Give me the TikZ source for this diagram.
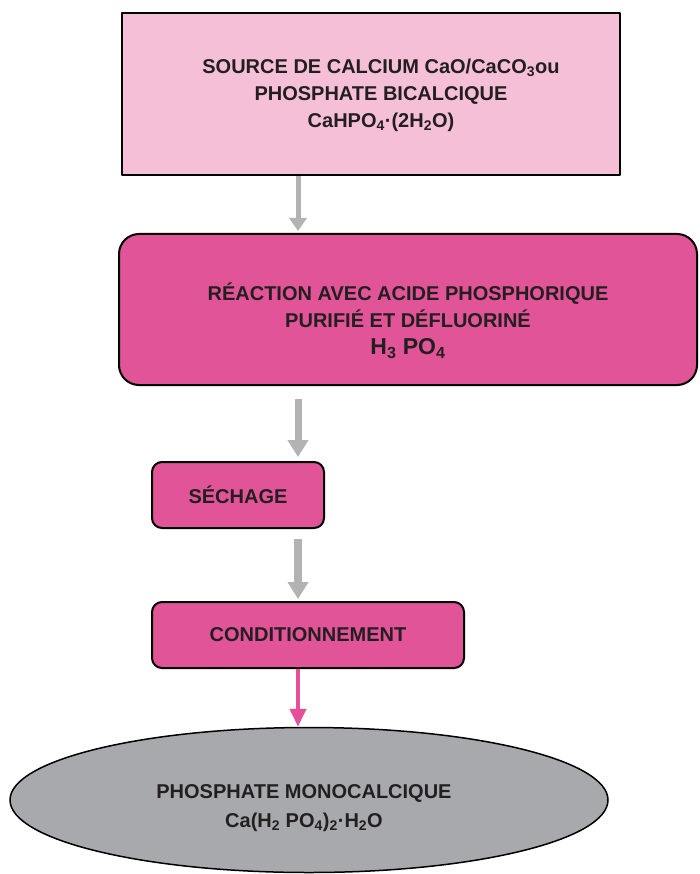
\documentclass[tikz,border=0pt]{standalone}
\usepackage{fontspec}
\setmainfont{Liberation Sans}
\usetikzlibrary{arrows}
\usetikzlibrary{arrows.meta}
\usetikzlibrary{shapes.geometric}
\definecolor{rosepale}{rgb}{0.9647058823529412,0.7490196078431373,0.8470588235294118}
\definecolor{rosevif}{rgb}{0.8862745098039215,0.32941176470588235,0.596078431372549}
\definecolor{grisell}{rgb}{0.6549019607843137,0.6627450980392157,0.6745098039215687}
\definecolor{grisfl}{rgb}{0.7019607843137254,0.7019607843137254,0.7019607843137254}
\definecolor{rosefl}{rgb}{0.9019607843137255,0.3137254901960784,0.6039215686274509}
\definecolor{texte}{rgb}{0.13725490196078433,0.12156862745098039,0.12549019607843137}

\begin{document}
\begin{tikzpicture}[line cap=round,line join=round,x=1pt,y=-1pt,
txt/.style={text=texte,align=center,inner sep=0pt,font=\fontsize{20}{27}\selectfont\bfseries},
sqbox/.style={draw=black,line width=2pt,fill=rosepale},
rdbox/.style={txt,draw=black,line width=2pt,fill=rosevif,rounded corners=10pt},
grarrow/.style={color=grisfl,line cap=butt}]
\useasboundingbox (0,0) rectangle (699,874);
\coordinate (axis) at (298,0);
\node[sqbox,minimum width=498pt,minimum height=162pt] (source) at (371,94) {};
\node[txt] (sourcetxt) at (381,95) {SOURCE DE CALCIUM CaO/CaCO\textsubscript{3}ou\\PHOSPHATE BICALCIQUE\\CaHPO\textsubscript{4}·(2H\textsubscript{2}O)};
\node[rdbox,rounded corners=20pt,minimum width=578pt,minimum height=151pt] (reaction) at (408,309.5) {};
\node[txt] (reactiontxt) at (408,321) {RÉACTION AVEC ACIDE PHOSPHORIQUE\\PURIFIÉ ET DÉFLUORINÉ\\{\fontsize{23}{27}\selectfont H\textsubscript{3} PO\textsubscript{4}}};
\node[rdbox,minimum width=172pt,minimum height=66pt] (sechage) at (238,495) {SÉCHAGE};
\node[rdbox,minimum width=312pt,minimum height=66pt] (cond) at (308,635) {CONDITIONNEMENT};
\node[ellipse,draw=black,line width=1.5pt,fill=grisell,minimum width=598pt,minimum height=145pt] (mono) at (309,800) {};
\node[txt,font=\fontsize{20}{29}\selectfont\bfseries] (monotxt) at (304,808) {PHOSPHATE MONOCALCIQUE\\Ca(H\textsubscript{2} PO\textsubscript{4})\textsubscript{2}·H\textsubscript{2}O};
% fleches
\draw [grarrow,line width=5pt,-{Triangle[length=13pt,width=17pt]},shorten >=2pt] (source.south -| axis) -- (reaction.north -| axis);
\draw [grarrow,line width=7pt,-{Triangle[length=17pt,width=20pt]},shorten <=13pt,shorten >=4pt] (reaction.south -| axis) -- (sechage.north -| axis);
\draw [grarrow,line width=8pt,-{Triangle[length=17pt,width=20pt]},shorten <=10pt,shorten >=2pt] (sechage.south -| axis) -- (cond.north -| axis);
\draw [color=rosefl,line width=4pt,line cap=butt,-{Triangle[length=18pt,width=16pt]}] (cond.south -| axis) -- (mono.north -| axis);
\end{tikzpicture}
\end{document}
